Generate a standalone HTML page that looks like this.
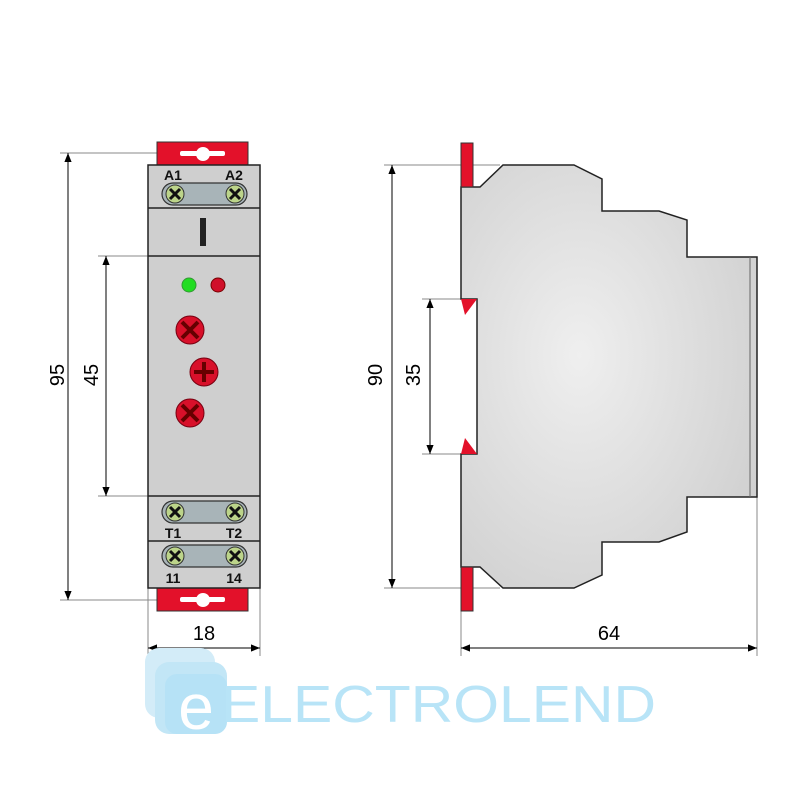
<!DOCTYPE html>
<html><head><meta charset="utf-8"><style>body{margin:0;background:#fff}svg{display:block}</style></head><body>
<svg width="800" height="800" viewBox="0 0 800 800" xmlns="http://www.w3.org/2000/svg" font-family="Liberation Sans, sans-serif">
<defs>
<radialGradient id="g" cx="0.4" cy="0.45" r="0.7"><stop offset="0" stop-color="#efefef"/><stop offset="1" stop-color="#cfcfcf"/></radialGradient>
<marker id="a" viewBox="0 0 10 10" refX="10" refY="5" markerWidth="16" markerHeight="9" orient="auto-start-reverse" markerUnits="userSpaceOnUse"><path d="M0,1 L10,5 L0,9z" fill="#000"/></marker>
</defs>
<g stroke="#888" stroke-width="1">
<line x1="60" y1="153" x2="200" y2="153"/><line x1="60" y1="600" x2="200" y2="600"/>
<line x1="98" y1="256" x2="148" y2="256"/><line x1="98" y1="496" x2="148" y2="496"/>
<line x1="148" y1="588" x2="148" y2="656"/><line x1="260" y1="588" x2="260" y2="656"/>
<line x1="384" y1="165" x2="500" y2="165"/><line x1="384" y1="588" x2="500" y2="588"/>
<line x1="422" y1="299" x2="461" y2="299"/><line x1="422" y1="454" x2="461" y2="454"/>
<line x1="461" y1="611" x2="461" y2="656"/><line x1="757" y1="497" x2="757" y2="656"/>
</g>
<g stroke="#000" stroke-width="1" marker-start="url(#a)" marker-end="url(#a)">
<line x1="68" y1="153" x2="68" y2="600"/>
<line x1="106" y1="256" x2="106" y2="496"/>
<line x1="148" y1="648" x2="260" y2="648"/>
<line x1="392" y1="165" x2="392" y2="588"/>
<line x1="430" y1="299" x2="430" y2="454"/>
<line x1="461" y1="648" x2="757" y2="648"/>
</g>
<g font-size="20" fill="#000" text-anchor="middle">
<text transform="translate(64,375) rotate(-90)">95</text>
<text transform="translate(98,375) rotate(-90)">45</text>
<text transform="translate(382,375) rotate(-90)">90</text>
<text transform="translate(420,375) rotate(-90)">35</text>
<text x="204" y="640">18</text>
<text x="609" y="640">64</text>
</g>
<rect x="157" y="142" width="91" height="24" fill="#e3112a" stroke="#333"/>
<rect x="157" y="587" width="91" height="24" fill="#e3112a" stroke="#333"/>
<g fill="#fff"><rect x="180" y="151" width="45" height="5" rx="2"/><circle cx="203" cy="154" r="7"/><rect x="180" y="597" width="45" height="5" rx="2"/><circle cx="203" cy="600" r="7"/></g>
<rect x="148" y="165" width="112" height="423" fill="#cfcfcf" stroke="#222" stroke-width="1.5"/>
<g stroke="#222" stroke-width="1.5"><line x1="148" y1="208" x2="260" y2="208"/><line x1="148" y1="256" x2="260" y2="256"/><line x1="148" y1="496" x2="260" y2="496"/><line x1="148" y1="541" x2="260" y2="541"/></g>
<rect x="200" y="218" width="6" height="28" fill="#222"/>
<g fill="#a8b4b8" stroke="#333" stroke-width="1.2">
<rect x="162" y="183" width="85" height="22" rx="11"/>
<rect x="162" y="501" width="85" height="22" rx="11"/>
<rect x="162" y="545" width="85" height="22" rx="11"/>
</g>
<g fill="#bcd48a" stroke="#333">
<circle cx="175" cy="194" r="9"/><circle cx="235" cy="194" r="9"/>
<circle cx="175" cy="512" r="9"/><circle cx="235" cy="512" r="9"/>
<circle cx="175" cy="556" r="9"/><circle cx="235" cy="556" r="9"/>
</g>
<g stroke="#111" stroke-width="3">
<path d="M170,189l10,10M180,189l-10,10M230,189l10,10M240,189l-10,10"/>
<path d="M170,507l10,10M180,507l-10,10M230,507l10,10M240,507l-10,10"/>
<path d="M170,551l10,10M180,551l-10,10M230,551l10,10M240,551l-10,10"/>
</g>
<g font-size="14" font-weight="bold" fill="#111" text-anchor="middle">
<text x="173" y="180">A1</text><text x="234" y="180">A2</text>
<text x="173" y="538">T1</text><text x="234" y="538">T2</text>
<text x="173" y="583">11</text><text x="234" y="583">14</text>
</g>
<circle cx="189" cy="285" r="7" fill="#22dd22" stroke="#393"/>
<circle cx="218" cy="285" r="7" fill="#d0102a" stroke="#700"/>
<g fill="#d8102a" stroke="#701"><circle cx="190" cy="330" r="14"/><circle cx="204" cy="372" r="14"/><circle cx="190" cy="413" r="14"/></g>
<g stroke="#600" stroke-width="4"><path d="M182,322l16,16M198,322l-16,16"/><path d="M194,372h20M204,362v20"/><path d="M182,405l16,16M198,405l-16,16"/></g>
<path d="M461,187 L480,187 L503,165 L574,165 L602,179 L602,211 L659,211 L687,220 L687,257 L757,257 L757,497 L687,497 L687,532 L659,542 L602,542 L602,575 L574,588 L503,588 L480,567 L461,567 L461,454 L477,454 L477,299 L461,299 Z" fill="url(#g)" stroke="#222" stroke-width="1.5"/>
<line x1="750" y1="257" x2="750" y2="497" stroke="#666"/>
<rect x="461" y="143" width="12" height="44" fill="#e3112a" stroke="#333"/>
<rect x="461" y="567" width="12" height="44" fill="#e3112a" stroke="#333"/>
<path d="M461,299 L477,299 L465,315 Z" fill="#e3112a"/>
<path d="M461,454 L477,454 L465,438 Z" fill="#e3112a"/>
<rect x="145" y="648" width="70" height="70" rx="14" fill="#d3ecf8"/>
<rect x="155" y="662" width="72" height="72" rx="14" fill="#c2e6f6"/>
<rect x="165" y="674" width="62" height="60" rx="12" fill="#b6e2f6"/>
<text x="196" y="729" font-size="64" fill="#fff" text-anchor="middle">e</text>
<text x="221" y="722" font-size="52" fill="#b8e4f7" textLength="435" lengthAdjust="spacingAndGlyphs">ELECTROLEND</text>
</svg>
</body></html>
